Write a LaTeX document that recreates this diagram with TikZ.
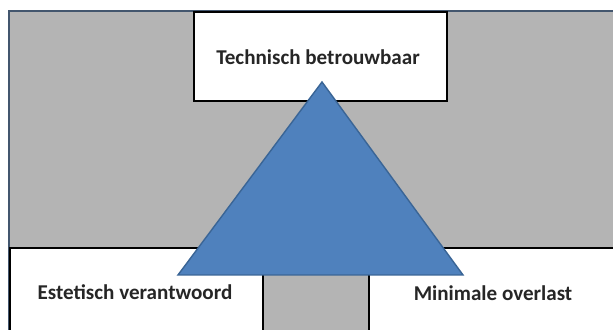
\documentclass[tikz,border=0pt]{standalone}
\usepackage{fontspec}
\setmainfont{Carlito}

\definecolor{vlakgrijs}{HTML}{B4B4B4}
\definecolor{randblauw}{HTML}{43566E}
\definecolor{driehoekblauw}{HTML}{4F81BD}
\definecolor{driehoekrand}{HTML}{3A6596}

\tikzset{
    vak/.style={fill=white, draw=black, line width=0.8pt},
    label/.style={font=\bfseries\fontsize{12}{14}\selectfont, text=black!85}
}

\begin{document}
\begin{tikzpicture}[x=0.02cm, y=-0.02cm]
    \useasboundingbox (0,0) rectangle (613,330);

    % Grey background with dark edge
    \fill[vlakgrijs] (9,11) rectangle (615,332);
    \draw[randblauw, line width=1.2pt] (9,332) -- (9,11) -- (615,11);

    % Boxes
    \draw[vak] (194,12) rectangle (447,101);
    \draw[vak] (10,248) rectangle (263,335);
    \draw[vak] (369,248) rectangle (620,335);

    % Define corners of the triangle
    \coordinate (top) at (322,82);
    \coordinate (links) at (178,275);
    \coordinate (rechts) at (463,275);

    % Draw triangle
    \filldraw[fill=driehoekblauw, draw=driehoekrand, line width=0.8pt]
        (top) -- (links) -- (rechts) -- cycle;

    % Labels
    \node[label] (technisch) at (318,57) {Technisch betrouwbaar};
    \node[label] (estetisch) at (135,292) {Estetisch verantwoord};
    \node[label] (overlast) at (493,293) {Minimale overlast};
\end{tikzpicture}
\end{document}
